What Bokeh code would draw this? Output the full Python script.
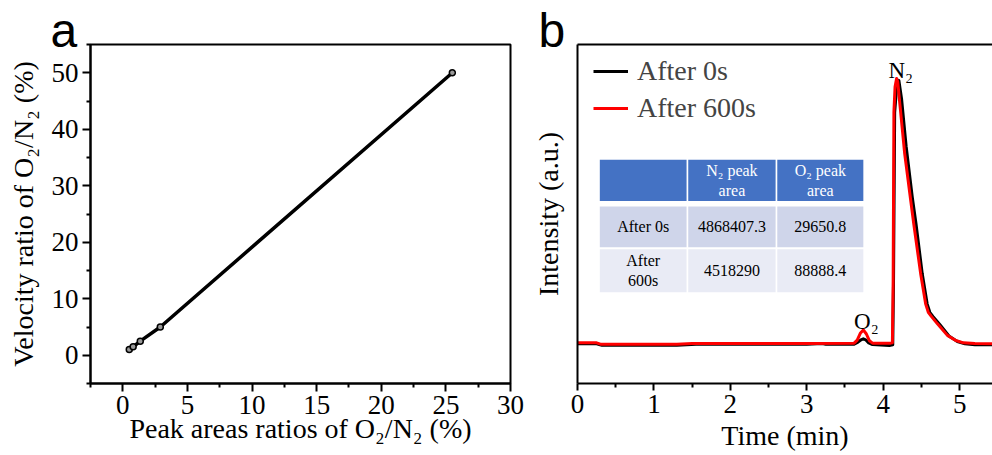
from bokeh.plotting import figure
from bokeh.layouts import row
from bokeh.models import (Range1d, FixedTicker, LinearAxis, Legend, LegendItem,
                          ColumnDataSource)
from bokeh.core.properties import value
from bokeh.embed import file_html
from bokeh.resources import INLINE

SERIF = "Liberation Serif"
SANS = "Liberation Sans"

# ---------------- Panel a data ----------------
area_ratio = [0.5, 0.8, 1.35, 2.9, 25.5]          # Peak areas ratios O2/N2 (%)
velocity_ratio = [1.0, 1.5, 2.5, 5.0, 50.0]        # Velocity ratio O2/N2 (%)
xticks_a = [0, 5, 10, 15, 20, 25, 30]
xminor_a = [-2.5, 2.5, 7.5, 12.5, 17.5, 22.5, 27.5]
yticks_a = [0, 10, 20, 30, 40, 50]
yminor_a = [-5, 5, 15, 25, 35, 45, 55]

# ---------------- Panel b data ----------------
t_black = [0.00, 0.25, 0.32, 1.30, 1.55, 3.00, 3.20, 3.25, 3.62, 3.67, 3.71, 3.74,
           3.77, 3.81, 3.86, 4.08, 4.125, 4.135, 4.15, 4.18, 4.205, 4.24, 4.30,
           4.38, 4.43, 4.51, 4.575, 4.61, 4.65, 4.74, 4.86, 4.97, 5.07, 5.20, 5.43]
i_black = [11.7, 11.7, 11.3, 11.3, 11.6, 11.6, 11.8, 11.6, 11.6, 12.2, 12.9, 13.2,
           12.9, 12.0, 11.5, 11.2, 11.4, 30.0, 80.0, 88.5, 89.4, 84.0, 70.0,
           55.0, 47.0, 32.5, 23.5, 21.0, 19.8, 17.4, 14.0, 12.4, 11.7, 11.4, 11.4]
t_red = [0.00, 0.25, 0.30, 1.30, 1.50, 3.00, 3.62, 3.66, 3.70, 3.74, 3.78, 3.82,
         3.86, 4.10, 4.12, 4.13, 4.14, 4.155, 4.175, 4.19, 4.22, 4.28, 4.36, 4.40,
         4.49, 4.555, 4.59, 4.63, 4.71, 4.84, 4.95, 5.05, 5.20, 5.43]
i_red = [12.0, 12.0, 11.6, 11.6, 11.8, 11.8, 11.9, 12.8, 14.8, 15.8, 14.6, 12.6,
         11.9, 11.9, 12.0, 30.0, 80.0, 87.5, 90.0, 89.0, 82.0, 68.0, 54.0, 47.0,
         32.4, 23.5, 21.0, 19.8, 17.6, 14.2, 12.7, 12.0, 11.8, 11.7]
xticks_b = [0, 1, 2, 3, 4, 5]
xminor_b = [0.5, 1.5, 2.5, 3.5, 4.5]
series_labels = ["After 0s", "After 600s"]
peak_labels = ["N₂", "O₂"]
peak_t = [4.23, 3.78]
peak_i = [92.3, 18.4]
panel_letters = ["a", "b"]

table_cells = [
    ["", "N₂ peak\narea", "O₂ peak\narea"],
    ["After 0s", "4868407.3", "29650.8"],
    ["After\n600s", "4518290", "88888.4"],
]
table_colors = ["#4472C4", "#CFD5EA", "#E9EBF5"]

TICK_FS = "27px"
LABEL_FS = "28px"


def style_title(p, letter, offset):
    p.title.text = letter
    p.title.text_font = SANS
    p.title.text_font_size = "48px"
    p.title.text_font_style = "normal"
    p.title.text_color = "black"
    p.title.align = "left"
    p.title.offset = offset
    p.title.standoff = -24


# ---------------- Panel a ----------------
p1 = figure(width=528, height=455, x_range=Range1d(-2.5, 30), y_range=Range1d(-5, 55),
            output_backend="svg", toolbar_location=None,
            min_border_left=90, min_border_right=18, min_border_top=44, min_border_bottom=72)
p1.grid.visible = False
p1.outline_line_color = "black"
p1.outline_line_width = 2
p1.outline_line_alpha = 1
style_title(p1, panel_letters[0], -40)

p1.line(area_ratio, velocity_ratio, line_color="black", line_width=3.5)
p1.scatter(area_ratio, velocity_ratio, size=6, fill_color="#999999", line_color="black",
           line_width=1.5)

for ax in (p1.xaxis[0], p1.yaxis[0]):
    ax.axis_line_width = 2
    ax.major_tick_line_width = 2
    ax.minor_tick_line_width = 2
    ax.major_tick_in = 0
    ax.major_tick_out = 8
    ax.minor_tick_in = 0
    ax.minor_tick_out = 4
    ax.major_label_text_font = SERIF
    ax.major_label_text_font_size = TICK_FS
    ax.major_label_text_color = "black"
    ax.axis_label_text_font = SERIF
    ax.axis_label_text_font_size = LABEL_FS
    ax.axis_label_text_font_style = "normal"
    ax.axis_label_text_color = "black"
    ax.major_label_standoff = 4

p1.xaxis[0].ticker = FixedTicker(ticks=xticks_a, minor_ticks=xminor_a)
p1.yaxis[0].ticker = FixedTicker(ticks=yticks_a, minor_ticks=yminor_a)
p1.xaxis[0].axis_label = "Peak areas ratios of O₂/N₂ (%)"
p1.yaxis[0].axis_label = "Velocity ratio of O₂/N₂ (%)"
p1.xaxis[0].axis_label_standoff = -4
p1.yaxis[0].axis_label_standoff = 10

# ---------------- Panel b ----------------
p2 = figure(width=464, height=455, x_range=Range1d(0, 5.43), y_range=Range1d(0, 100),
            output_backend="svg", toolbar_location=None,
            min_border_left=49, min_border_right=0, min_border_top=44, min_border_bottom=72)
p2.grid.visible = False
p2.outline_line_color = None
style_title(p2, panel_letters[1], -39)

# table
n_rows = len(table_cells)
n_cols = len(table_cells[0])
col_edges = [(0.292, 1.427), (1.449, 2.592), (2.614, 3.740)]
row_edges = [(53.8, 66.0), (40.2, 52.2), (26.9, 39.6)]
q = dict(left=[], right=[], bottom=[], top=[], color=[])
tx = dict(x=[], y=[], text=[], color=[])
line_gap = 5.9
for r in range(n_rows):
    for c in range(n_cols):
        l, rr = col_edges[c]
        b, t = row_edges[r]
        q["left"].append(l); q["right"].append(rr)
        q["bottom"].append(b); q["top"].append(t)
        q["color"].append(table_colors[r])
        lines = table_cells[r][c].split("\n")
        cy = (b + t) / 2
        n = len(lines)
        for k, s in enumerate(lines):
            if not s:
                continue
            tx["x"].append((l + rr) / 2)
            tx["y"].append(cy + ((n - 1) / 2 - k) * line_gap)
            tx["text"].append(s)
            tx["color"].append("white" if r == 0 else "black")
p2.quad(left="left", right="right", bottom="bottom", top="top", fill_color="color",
        line_color=None, source=ColumnDataSource(q))
p2.text(x="x", y="y", text="text", text_color="color", source=ColumnDataSource(tx),
        text_font=value(SERIF), text_font_size="16px", text_align="center",
        text_baseline="middle")

rb = p2.line(t_black, i_black, line_color="black", line_width=3, line_join="round")
rr_ = p2.line(t_red, i_red, line_color="#ff0000", line_width=3, line_join="round")

p2.text(x=peak_t, y=peak_i, text=peak_labels, text_font=value(SERIF),
        text_font_size="23px", text_align="center", text_baseline="alphabetic",
        text_color="black")

legend = Legend(items=[LegendItem(label=series_labels[0], renderers=[rb]),
                       LegendItem(label=series_labels[1], renderers=[rr_])],
                location=(16, 259), border_line_color=None, background_fill_alpha=0,
                label_text_font=SERIF, label_text_font_size="28px",
                glyph_width=35, glyph_height=32, label_height=32, spacing=5,
                padding=0, margin=0, label_standoff=9)
p2.add_layout(legend)

xb = p2.xaxis[0]
xb.ticker = FixedTicker(ticks=xticks_b, minor_ticks=xminor_b)
yb = p2.yaxis[0]
yb.ticker = FixedTicker(ticks=[])
yb.axis_label = "Intensity (a.u.)"
for ax in (xb, yb):
    ax.axis_line_width = 2
    ax.major_tick_line_width = 2
    ax.minor_tick_line_width = 2
    ax.major_tick_in = 0
    ax.major_tick_out = 7
    ax.minor_tick_in = 0
    ax.minor_tick_out = 4
    ax.major_label_text_font = SERIF
    ax.major_label_text_font_size = TICK_FS
    ax.major_label_text_color = "black"
    ax.axis_label_text_font = SERIF
    ax.axis_label_text_font_size = LABEL_FS
    ax.axis_label_text_font_style = "normal"
    ax.axis_label_text_color = "black"
    ax.major_label_standoff = 4
xb.axis_label = "Time (min)"
xb.axis_label_standoff = 4
yb.axis_label_standoff = 14

top_ax = LinearAxis(ticker=FixedTicker(ticks=[]), axis_line_width=2)
p2.add_layout(top_ax, "above")

layout = row(p1, p2)
open("out.html", "w").write(file_html(layout, INLINE))
